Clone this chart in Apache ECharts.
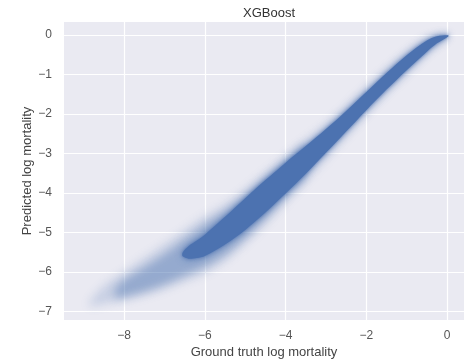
<!DOCTYPE html>
<html>
<head>
<meta charset="utf-8">
<script src="https://cdn.jsdelivr.net/npm/echarts@6/dist/echarts.min.js"></script>
<style>
  html, body { margin: 0; padding: 0; background: #ffffff; }
  #chart { width: 467px; height: 364px; }
</style>
</head>
<body>
<div id="chart"></div>
<script>
// Tick positions on both axes
const xTicks = [-8, -6, -4, -2, 0];
const yTicks = [-7, -6, -5, -4, -3, -2, -1, 0];

// Dense core of the prediction cloud: ground-truth positions and the
// predicted-value envelope (upper / lower) at each of them
const coreTruth = [-6.55, -6.4, -6.2, -6.0, -5.5, -5.0, -4.5, -4.0, -3.5, -3.0, -2.5, -2.0, -1.5, -1.0, -0.5, -0.25, 0.03];
const coreUpper = [-5.50, -5.34, -5.20, -5.05, -4.60, -4.13, -3.67, -3.23, -2.81, -2.38, -1.92, -1.44, -0.96, -0.51, -0.14, -0.03, -0.005];
const coreLower = [-5.60, -5.66, -5.64, -5.59, -5.30, -4.93, -4.49, -4.01, -3.51, -2.98, -2.44, -1.90, -1.38, -0.89, -0.42, -0.21, -0.035];

// Moderately dense fringe around the lower part of the cloud
const fringeTruth = [-8.2, -8.0, -7.5, -7.0, -6.5, -6.0, -5.5, -5.0, -4.5, -4.0, -3.5];
const fringeUpper = [-6.40, -6.20, -5.88, -5.55, -5.18, -4.80, -4.47, -4.08, -3.64, -3.20, -2.78];
const fringeLower = [-6.66, -6.62, -6.48, -6.30, -6.08, -5.85, -5.55, -5.12, -4.62, -4.08, -3.56];

// Sparse outer scatter of the cloud
const haloTruth = [-8.85, -8.5, -8.0, -7.5, -7.0, -6.5, -6.0, -5.5, -5.0, -4.5, -4.0, -3.5, -3.0, -2.5, -2.0, -1.5, -1.0, -0.5, 0.0];
const haloUpper = [-6.76, -6.35, -6.00, -5.65, -5.30, -4.95, -4.60, -4.30, -3.93, -3.50, -3.07, -2.67, -2.28, -1.82, -1.34, -0.88, -0.45, -0.08, 0.0];
const haloLower = [-6.86, -6.80, -6.70, -6.58, -6.42, -6.22, -6.02, -5.70, -5.25, -4.76, -4.22, -3.68, -3.12, -2.54, -1.98, -1.45, -0.96, -0.46, -0.05];

const BLUE = '#4C72B0';
const FONT = 'Liberation Sans, Arial, sans-serif';

// Closed outline: upper edge left-to-right, lower edge back again
function outline(truth, upper, lower) {
  const pts = [];
  for (let i = 0; i < truth.length; i++) pts.push([truth[i], upper[i]]);
  for (let i = truth.length - 1; i >= 0; i--) pts.push([truth[i], lower[i]]);
  return pts;
}

// Filled region; when soft, only a blurred copy of the region is shown
// (the shape itself is pushed off-canvas and its shadow offset back).
function bandSeries(name, pts, opts) {
  const SHIFT = 2000;
  return {
    name: name,
    type: 'custom',
    silent: true,
    clip: false,
    data: pts,
    encode: { x: 0, y: 1 },
    renderItem: function (params, api) {
      if (params.dataIndex !== 0) return null;
      const off = opts.soft ? SHIFT : 0;
      const shape = pts.map(p => {
        const c = api.coord(p);
        return [c[0] - off, c[1]];
      });
      const style = opts.soft
        ? { fill: BLUE, shadowColor: opts.color, shadowBlur: opts.blur, shadowOffsetX: SHIFT, shadowOffsetY: 0 }
        : { fill: opts.color, shadowColor: opts.edge, shadowBlur: opts.blur };
      return { type: 'polygon', shape: { points: shape, smooth: 0.3 }, style: style };
    }
  };
}

const labelStyle = { color: '#555555', fontSize: 12, fontFamily: FONT };
const minus = v => String(v).replace('-', '\u2212');

const chart = echarts.init(document.getElementById('chart'), null, { renderer: 'canvas' });
chart.setOption({
  animation: false,
  backgroundColor: '#ffffff',
  title: {
    text: 'XGBoost',
    left: 264,
    top: 2,
    textAlign: 'center',
    textStyle: { color: '#333333', fontSize: 13, fontWeight: 'normal', fontFamily: FONT }
  },
  grid: { left: 64, right: 3, top: 22, bottom: 44, show: true, backgroundColor: '#EAEAF2', borderWidth: 0 },
  xAxis: {
    type: 'value',
    min: -9.49,
    max: 0.42,
    name: 'Ground truth log mortality',
    nameLocation: 'middle',
    nameGap: 26,
    nameMoveOverlap: false,
    nameTextStyle: { color: '#444444', fontSize: 13, fontFamily: FONT },
    axisLine: { show: false },
    axisTick: { show: false, customValues: xTicks },
    axisLabel: Object.assign({ customValues: xTicks, margin: 10, formatter: minus }, labelStyle),
    splitLine: { show: true, lineStyle: { color: '#ffffff', width: 1.2 } }
  },
  yAxis: {
    type: 'value',
    min: -7.21,
    max: 0.33,
    name: 'Predicted log mortality',
    nameLocation: 'middle',
    nameGap: 30,
    nameMoveOverlap: false,
    nameRotate: 90,
    nameTextStyle: { color: '#444444', fontSize: 13, fontFamily: FONT },
    axisLine: { show: false },
    axisTick: { show: false, customValues: yTicks },
    axisLabel: Object.assign({ customValues: yTicks, margin: 12, formatter: minus }, labelStyle),
    splitLine: { show: true, lineStyle: { color: '#ffffff', width: 1.2 } }
  },
  series: [
    bandSeries('halo', outline(haloTruth, haloUpper, haloLower),
      { soft: true, color: 'rgba(76,114,176,0.22)', blur: 10 }),
    bandSeries('fringe', outline(fringeTruth, fringeUpper, fringeLower),
      { soft: true, color: 'rgba(76,114,176,0.40)', blur: 9 }),
    bandSeries('coreFuzz', outline(coreTruth, coreUpper.map(v => v + 0.04), coreLower.map(v => v - 0.04)),
      { soft: true, color: 'rgba(76,114,176,0.55)', blur: 6 }),
    bandSeries('core', outline(coreTruth, coreUpper, coreLower),
      { soft: false, color: BLUE, edge: 'rgba(76,114,176,0.8)', blur: 3 })
  ]
});
</script>
</body>
</html>
